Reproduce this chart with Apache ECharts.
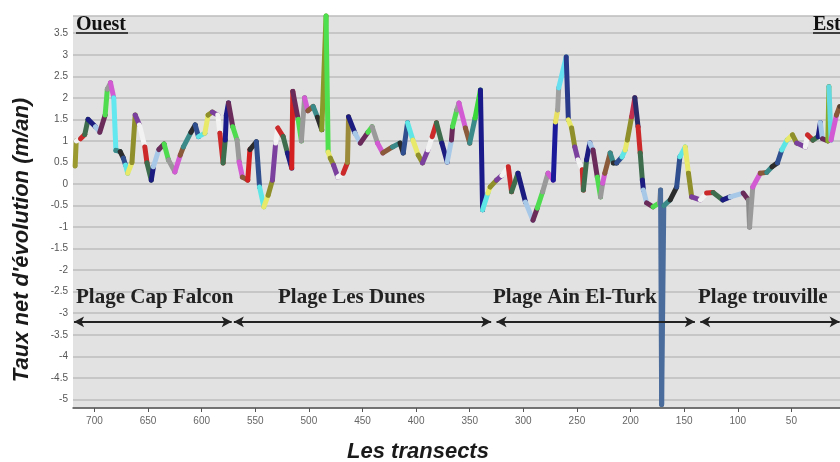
<!DOCTYPE html>
<html><head><meta charset="utf-8">
<script src="https://cdn.jsdelivr.net/npm/echarts@6/dist/echarts.min.js"></script>
<style>html,body{margin:0;padding:0;background:#fff}#chart{width:840px;height:462px}</style>
</head><body><div id="chart"></div>
<script>
// Transect numbers (x) and net shoreline change rate (m/an)
const transects = [718,717,713,709,706,699,695,690,688,685,682,680,676,673,671,669,665,662,658,653,651,647,645,640,635,631,625,620,617,610,606,603,597,594,590,585,583,580,578,577,575,571,567,565,562,557,555,549,546,542,538,534,531,529,524,520,516,515,510,507,504,501,496,492,488,484,482,480,477,473,468,464,463,457,452,445,441,436,431,422,415,412,408,403,398,394,389,385,381,376,371,367,366,362,360,354,350,345,340,338,333,331,325,320,314,311,305,298,291,287,282,277,272,270,268,267,260,258,255,252,249,245,244,241,238,235,231,228,226,224,219,216,213,208,205,203,199,196,193,191,189,188,185,179,173,172,171,169,163,157,154,149,146,143,135,129,123,114,107,95,90,89,86,79,73,68,63,59,54,49,45,37,35,30,25,23,21,16,15,13,8,5];
const rates = [0.42,1.0,1.05,1.15,1.5,1.33,1.2,1.6,2.2,2.35,2.0,0.78,0.75,0.6,0.44,0.25,0.5,1.6,1.37,0.86,0.49,0.09,0.4,0.8,0.93,0.56,0.28,0.67,0.86,1.2,1.37,1.1,1.18,1.6,1.67,1.6,1.18,0.49,1.02,1.6,1.88,1.33,1.02,0.51,0.16,0.09,0.8,0.98,-0.07,-0.53,-0.26,0.09,0.95,1.3,1.1,0.72,0.37,2.15,1.5,1.0,2.0,1.7,1.8,1.55,1.26,3.9,0.74,0.6,0.44,0.16,0.25,0.5,1.56,1.18,0.95,1.2,1.33,0.95,0.72,0.86,0.95,0.72,1.42,1.02,0.67,0.49,0.79,1.1,1.42,0.95,0.51,1.02,1.33,1.72,1.88,1.3,0.95,1.53,2.18,-0.6,-0.21,-0.07,0.09,0.2,0.4,-0.18,0.25,-0.42,-0.84,-0.56,-0.18,0.25,0.09,1.44,1.72,2.23,2.95,1.49,1.3,0.86,0.56,0.33,-0.14,0.56,0.95,0.79,0.16,-0.3,0.02,0.25,0.72,0.49,0.49,0.63,0.79,1.02,1.56,2.0,1.33,0.72,0.09,-0.14,-0.44,-0.53,-0.44,-0.14,-5.12,-0.5,-0.37,-0.07,0.63,0.86,0.25,-0.3,-0.37,-0.21,-0.2,-0.37,-0.3,-0.21,-0.37,-1.0,-0.07,0.25,0.27,0.4,0.49,0.79,1.02,1.14,0.95,0.86,1.14,1.02,1.1,1.42,1.05,1.0,2.26,1.02,1.6,1.8];

// Beaches (from west to east) and their transect extents
const beachNames = ['Plage Cap Falcon','Plage Les Dunes','Plage Ain El-Turk','Plage trouville'];
const beachFrom = [719, 570, 325, 135];
const beachTo = [572, 330, 140, 5];
const arrowLevel = -3.2;

// styling
const palette = ['#8f8f2c','#1c1c80','#d25ad2','#5ee6e6','#cc2a2a','#4fdc4f','#2c2c2c','#7b3f9e','#a8c8e8','#8a5a3a','#e8e86a','#3d6d4d','#9a9a9a','#2f4f8f','#f2f2f2','#6a2a5a','#3a8a8a'];
const accent = {717:'#9a9a30',680:'#62e8ee',515:'#d42020',484:'#8a9a2a',482:'#4fe04f',463:'#9a8a3a',340:'#3ad83a',338:'#1a1a8a',270:'#1a1a9a',268:'#e8e060',267:'#a0a0a0',260:'#66e0f0',258:'#2a3a8a',171:'#4a6c9c',169:'#4a6c9c',89:'#8a8a8a',15:'#8aaa2a',13:'#62d8e0',555:'#d42020',577:'#1a1a8a',575:'#1a1a8a',196:'#c03050',193:'#2a2a6a'};

const segData = transects.map((t, i) => [t, rates[i], transects[Math.max(i-1,0)], rates[Math.max(i-1,0)]]);

const chart = echarts.init(document.getElementById('chart'));
const serif = '"Liberation Serif", "Times New Roman", serif';
chart.setOption({
  animation: false,
  backgroundColor: '#ffffff',
  grid: {left: 73, right: -5, top: 16, bottom: 54, outerBoundsMode: 'none', containLabel: false, show: true, backgroundColor: '#e2e2e2', borderWidth: 0},
  xAxis: {
    type: 'value', inverse: true, min: 0, max: 720, interval: 50,
    name: 'Les transects', nameLocation: 'middle', nameGap: 33,
    nameTextStyle: {fontFamily: 'Liberation Sans, Arial, sans-serif', fontSize: 22, fontWeight: 'bold', fontStyle: 'italic', color: '#1a1a1a', padding: [0, 82, 0, 0]},
    axisLine: {show: true, onZero: false, lineStyle: {color: '#555', width: 1.5}},
    axisTick: {show: true, length: 4, lineStyle: {color: '#555'}},
    axisLabel: {color: '#666', fontSize: 10, fontFamily: 'Liberation Sans, Arial, sans-serif', margin: 8, showMaxLabel: false, showMinLabel: false},
    splitLine: {show: false}
  },
  yAxis: {
    type: 'value', min: -5.2, max: 3.9, splitNumber: 18,
    name: "Taux net d'évolution (m/an)", nameLocation: 'middle', nameGap: 40,
    nameTextStyle: {fontFamily: 'Liberation Sans, Arial, sans-serif', fontSize: 22, fontWeight: 'bold', fontStyle: 'italic', color: '#1a1a1a', padding: [0, 56, 0, 0]},
    axisLine: {show: true, lineStyle: {color: '#555', width: 1.5}},
    axisTick: {show: true, length: 3, lineStyle: {color: '#555'}},
    axisLabel: {color: '#555', fontSize: 10, fontFamily: 'Liberation Sans, Arial, sans-serif', margin: 5, showMinLabel: false, showMaxLabel: false},
    splitLine: {show: true, lineStyle: {color: '#bdbdbd', width: 1.5}}
  },
  graphic: {
    elements: [
      {type: 'text', z: 100, style: {text: 'Ouest', x: 76, y: 25, font: 'bold 20px ' + serif, fill: '#111', textAlign: 'left', textVerticalAlign: 'middle'}},
      {type: 'line', z: 100, shape: {x1: 76, y1: 33, x2: 128, y2: 33}, style: {stroke: '#111', lineWidth: 1.5}},
      {type: 'text', z: 100, style: {text: 'Est', x: 813, y: 25, font: 'bold 20px ' + serif, fill: '#111', textAlign: 'left', textVerticalAlign: 'middle'}},
      {type: 'line', z: 100, shape: {x1: 813, y1: 33, x2: 845, y2: 33}, style: {stroke: '#111', lineWidth: 1.5}},
      {type: 'text', z: 100, style: {text: beachNames[0], x: 76, y: 298, font: 'bold 21px ' + serif, fill: '#222', textVerticalAlign: 'middle'}},
      {type: 'text', z: 100, style: {text: beachNames[1], x: 278, y: 298, font: 'bold 21px ' + serif, fill: '#222', textVerticalAlign: 'middle'}},
      {type: 'text', z: 100, style: {text: beachNames[2], x: 493, y: 298, font: 'bold 21px ' + serif, fill: '#222', textVerticalAlign: 'middle'}},
      {type: 'text', z: 100, style: {text: beachNames[3], x: 698, y: 298, font: 'bold 21px ' + serif, fill: '#222', textVerticalAlign: 'middle'}}
    ]
  },
  series: [
    {
      type: 'custom', name: 'rates',
      data: segData,
      encode: {x: [0, 2], y: [1, 3]},
      renderItem: function (params, api) {
        const i = params.dataIndex;
        const t = api.value(0);
        const p1 = api.coord([t, api.value(1)]);
        const p0 = api.coord([api.value(2), api.value(3)]);
        const c = accent[t] || palette[(i * 7) % palette.length];
        return {type: 'group', children: [
          {type: 'line', shape: {x1: p0[0], y1: p0[1], x2: p1[0], y2: p1[1]}, style: {stroke: c, lineWidth: 5, lineCap: 'round'}},
          {type: 'circle', shape: {cx: p1[0], cy: p1[1], r: 2.3}, style: {fill: 'rgba(40,40,40,0.55)'}}
        ]};
      },
      z: 3
    },
    {
      type: 'line', name: 'beaches', data: [], silent: true,
      markLine: {
        silent: true, symbol: ['arrow', 'arrow'], symbolSize: [8, 10],
        label: {show: false},
        lineStyle: {color: '#222', width: 2, type: 'solid'},
        data: beachNames.map((n, i) => [{coord: [beachFrom[i], arrowLevel]}, {coord: [beachTo[i], arrowLevel]}])
      }
    }
  ]
});
</script>
</body></html>
